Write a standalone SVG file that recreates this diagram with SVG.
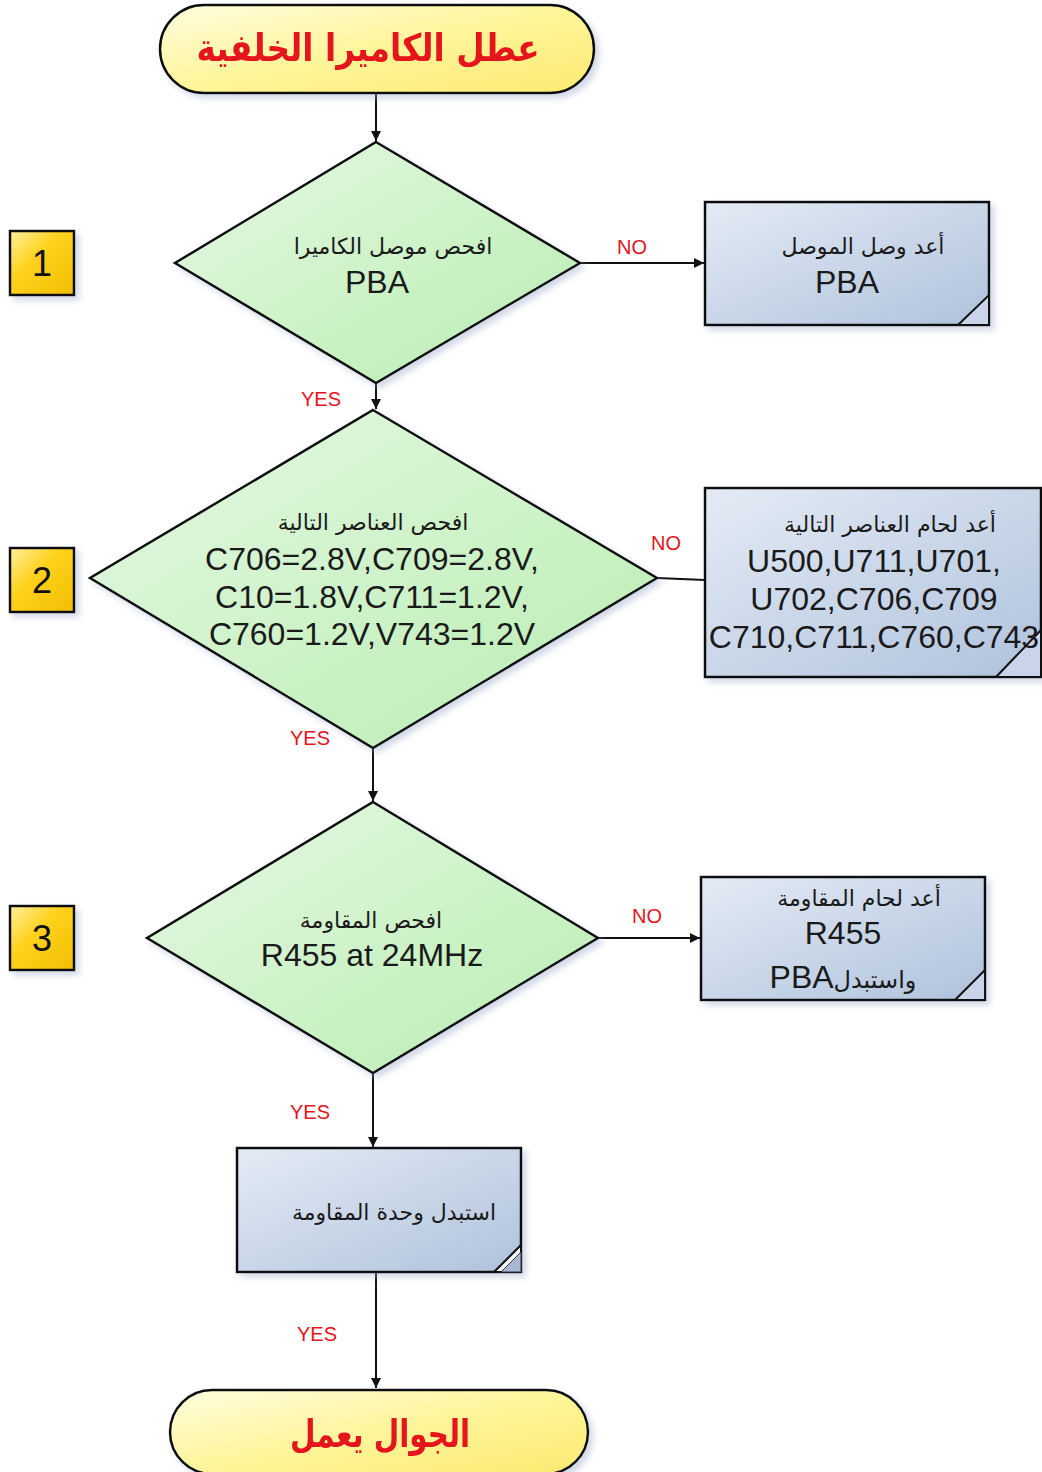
<svg xmlns="http://www.w3.org/2000/svg" width="1042" height="1472" viewBox="0 0 1042 1472">
<style>
.t{font-family:"Liberation Sans","DejaVu Sans",sans-serif;fill:#1a1a1a;text-anchor:middle}
.ar{font-family:"DejaVu Sans",sans-serif;fill:#1a1a1a;text-anchor:middle;font-size:22px}
.lat{font-size:32px}
.title{font-family:"DejaVu Sans",sans-serif;font-weight:bold;fill:#E4141C;text-anchor:middle}
.lbl{font-family:"Liberation Sans",sans-serif;fill:#E4141C;font-size:20px;text-anchor:middle}
.num{font-family:"Liberation Sans",sans-serif;fill:#111;font-size:36px;text-anchor:middle}
.term{fill:url(#gy);stroke:#111;stroke-width:2.5}
.dia{fill:url(#gg);stroke:#111;stroke-width:2.5}
.box{fill:url(#gb);stroke:#111;stroke-width:2.5}
.nb{fill:url(#go);stroke:#111;stroke-width:2.5}
.fold{fill:#c9d4ea;stroke:#111;stroke-width:2}
.c{stroke:#111;stroke-width:2;fill:none}
</style>
<defs>
<linearGradient id="gy" x1="0" y1="0" x2="1" y2="1"><stop offset="0" stop-color="#FFFDE0"/><stop offset="0.5" stop-color="#FFF59A"/><stop offset="1" stop-color="#FBEA70"/></linearGradient>
<linearGradient id="gg" x1="0" y1="0" x2="1" y2="1"><stop offset="0" stop-color="#E6F8E4"/><stop offset="1" stop-color="#B8EDB0"/></linearGradient>
<linearGradient id="gb" x1="0" y1="0" x2="1" y2="1"><stop offset="0" stop-color="#E4EBF5"/><stop offset="1" stop-color="#AFC2DC"/></linearGradient>
<linearGradient id="go" x1="0" y1="0" x2="1" y2="1"><stop offset="0" stop-color="#FFF0A0"/><stop offset="0.4" stop-color="#FFD21E"/><stop offset="1" stop-color="#F2BE00"/></linearGradient>
<filter id="sh" x="-10%" y="-10%" width="130%" height="130%"><feDropShadow dx="4" dy="4" stdDeviation="3" flood-color="#9aa8c8" flood-opacity="0.45"/></filter>
<marker id="ah" viewBox="0 0 10 10" refX="10" refY="5" markerWidth="10" markerHeight="10" markerUnits="userSpaceOnUse" orient="auto"><path d="M0,0 L10,5 L0,10 z" fill="#111"/></marker>
</defs>

<g id="connectors">
<line class="c" x1="376" y1="93" x2="376" y2="141" marker-end="url(#ah)"/>
<line class="c" x1="580" y1="263" x2="704" y2="263" marker-end="url(#ah)"/>
<line class="c" x1="376" y1="383" x2="376" y2="409" marker-end="url(#ah)"/>
<line class="c" x1="657" y1="578" x2="705" y2="580"/>
<line class="c" x1="373" y1="748" x2="373" y2="801" marker-end="url(#ah)"/>
<line class="c" x1="598" y1="938" x2="700" y2="938" marker-end="url(#ah)"/>
<line class="c" x1="373" y1="1073" x2="373" y2="1147" marker-end="url(#ah)"/>
<line class="c" x1="376" y1="1272" x2="376" y2="1388" marker-end="url(#ah)"/>
<text class="lbl" x="632" y="254">NO</text>
<text class="lbl" x="321" y="406">YES</text>
<text class="lbl" x="666" y="550">NO</text>
<text class="lbl" x="310" y="745">YES</text>
<text class="lbl" x="647" y="923">NO</text>
<text class="lbl" x="310" y="1119">YES</text>
<text class="lbl" x="317" y="1341">YES</text>
</g>

<g id="start" filter="url(#sh)">
<rect class="term" x="160" y="5" width="434" height="88" rx="44"/>
<text class="title" x="368" y="61" font-size="38" textLength="343" lengthAdjust="spacingAndGlyphs">عطل الكاميرا الخلفية</text>
</g>

<g id="n1">
<rect class="nb" x="10" y="231" width="64" height="64" filter="url(#sh)"/>
<text class="num" x="42" y="276">1</text>
</g>
<g id="n2">
<rect class="nb" x="10" y="548" width="64" height="64" filter="url(#sh)"/>
<text class="num" x="42" y="593">2</text>
</g>
<g id="n3">
<rect class="nb" x="10" y="906" width="64" height="64" filter="url(#sh)"/>
<text class="num" x="42" y="951">3</text>
</g>

<g id="d1">
<polygon class="dia" points="376,142 580,263 376,383 175,263" filter="url(#sh)"/>
<text class="ar" x="393" y="254" font-size="25">افحص موصل الكاميرا</text>
<text class="t lat" x="377" y="293">PBA</text>
</g>

<g id="b1">
<rect class="box" x="705" y="202" width="284" height="123" filter="url(#sh)"/>
<polygon class="fold" points="958,325 989,295 989,325"/>
<text class="ar" x="863" y="254" font-size="23">أعد وصل الموصل</text>
<text class="t lat" x="847" y="293">PBA</text>
</g>

<g id="d2">
<polygon class="dia" points="373,410 657,578 373,748 90,578" filter="url(#sh)"/>
<text class="ar" x="373" y="530" font-size="25">افحص العناصر التالية</text>
<text class="t lat" x="372" y="570">C706=2.8V,C709=2.8V,</text>
<text class="t lat" x="372" y="608">C10=1.8V,C711=1.2V,</text>
<text class="t lat" x="372" y="645">C760=1.2V,V743=1.2V</text>
</g>

<g id="b2">
<rect class="box" x="705" y="488" width="336" height="189" filter="url(#sh)"/>
<polygon class="fold" points="996,677 1041,630 1041,677"/>
<text class="ar" x="890" y="532" font-size="25">أعد لحام العناصر التالية</text>
<text class="t lat" x="874" y="572">U500,U711,U701,</text>
<text class="t lat" x="874" y="610">U702,C706,C709</text>
<text class="t lat" x="874" y="648">C710,C711,C760,C743</text>
</g>

<g id="d3">
<polygon class="dia" points="373,802 598,938 373,1073 147,938" filter="url(#sh)"/>
<text class="ar" x="371" y="928">افحص المقاومة</text>
<text class="t lat" x="372" y="966">R455 at 24MHz</text>
</g>

<g id="b3">
<rect class="box" x="701" y="877" width="284" height="123" filter="url(#sh)"/>
<polygon class="fold" points="955,1000 985,970 985,1000"/>
<text class="ar" x="859" y="906" font-size="23">أعد لحام المقاومة</text>
<text class="t lat" x="843" y="944">R455</text>
<text class="t" x="843" y="988"><tspan font-size="32">PBA</tspan><tspan font-family="DejaVu Sans" font-size="24">واستبدل</tspan></text>
</g>

<g id="b4">
<rect class="box" x="237" y="1148" width="284" height="124" filter="url(#sh)"/>
<polygon points="494,1272 521,1245 521,1272" fill="#f4f6fa" stroke="#111" stroke-width="2"/>
<polygon points="501,1272 521,1252 521,1272" fill="#a9b8d2" stroke="#333" stroke-width="1"/>
<text class="ar" x="394" y="1220">استبدل وحدة المقاومة</text>
</g>

<g id="end" filter="url(#sh)">
<rect class="term" x="170" y="1390" width="418" height="84" rx="42"/>
<text class="title" x="380" y="1447" font-size="38" textLength="180" lengthAdjust="spacingAndGlyphs">الجوال يعمل</text>
</g>
</svg>
